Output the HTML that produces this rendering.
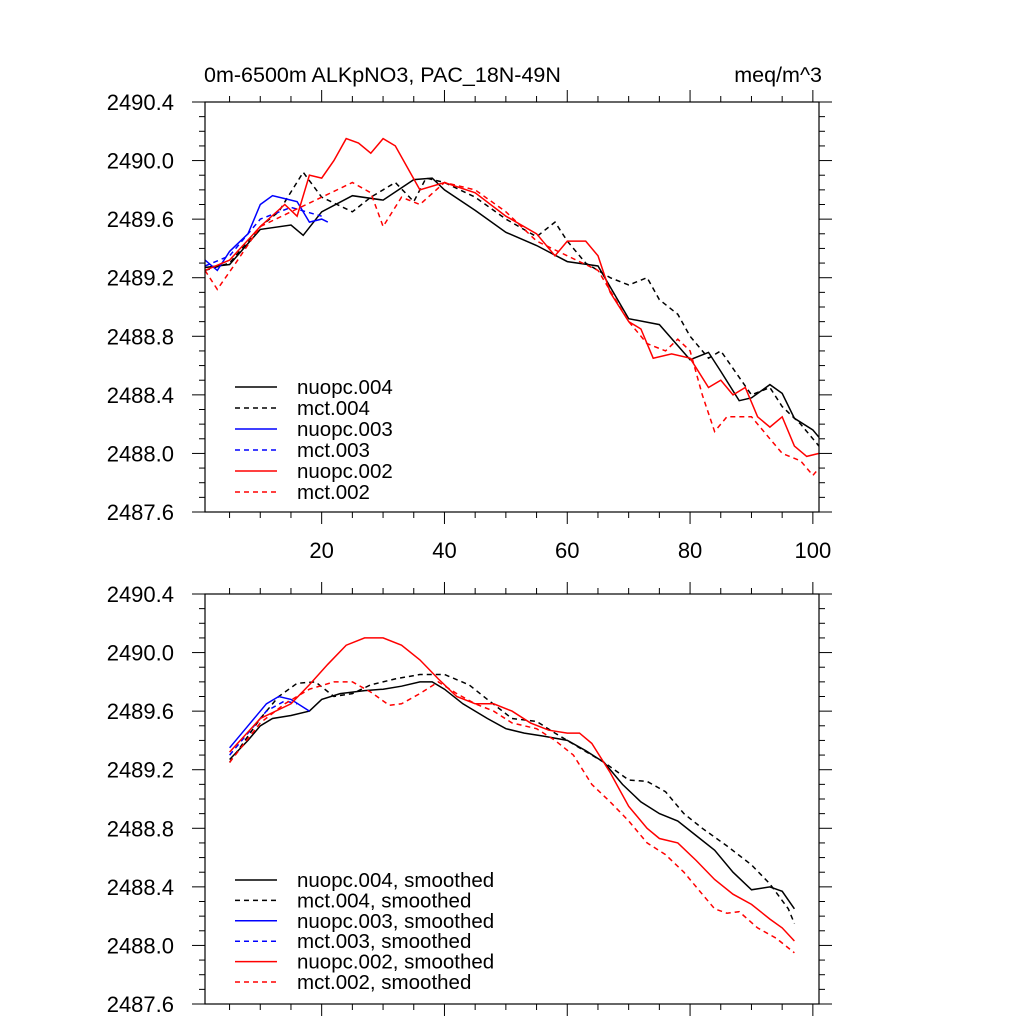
<!DOCTYPE html>
<html><head><meta charset="utf-8">
<style>
html,body{margin:0;padding:0;background:#fff;}
svg{display:block;font-family:"Liberation Sans",sans-serif;}
</style></head>
<body>
<svg id="chart" width="1024" height="1024" viewBox="0 0 1024 1024" xmlns="http://www.w3.org/2000/svg">
<text x="204" y="82" font-size="21.5">0m-6500m ALKpNO3, PAC_18N-49N</text>
<text x="822" y="82" font-size="21.5" text-anchor="end">meq/m^3</text>
</svg>
<script>
const yTicks=[2487.6,2488.0,2488.4,2488.8,2489.2,2489.6,2490.0,2490.4];
const yTickLabels=["2487.6","2488.0","2488.4","2488.8","2489.2","2489.6","2490.0","2490.4"];
const xTicks=[20,40,60,80,100];
const xTickLabels=["20","40","60","80","100"];

const n004x=[1,5,10,15,17,20,25,30,35,38,40,45,50,55,60,65,70,75,80,83,85,88,90,93,95,97,100,101];
const n004y=[2489.27,2489.29,2489.53,2489.56,2489.49,2489.65,2489.76,2489.73,2489.87,2489.88,2489.80,2489.66,2489.51,2489.42,2489.31,2489.28,2488.92,2488.88,2488.64,2488.69,2488.56,2488.36,2488.38,2488.47,2488.41,2488.24,2488.16,2488.11];
const m004x=[1,5,10,13,17,20,25,28,32,35,37,40,45,50,55,58,60,63,67,70,73,75,78,80,83,85,88,90,93,95,98,101];
const m004y=[2489.25,2489.30,2489.55,2489.65,2489.92,2489.75,2489.65,2489.75,2489.85,2489.72,2489.88,2489.85,2489.75,2489.60,2489.48,2489.58,2489.45,2489.30,2489.20,2489.15,2489.20,2489.05,2488.95,2488.80,2488.65,2488.70,2488.52,2488.40,2488.45,2488.32,2488.20,2488.05];
const n003x=[1,3,5,8,10,12,14,16,18,20,21];
const n003y=[2489.32,2489.25,2489.38,2489.50,2489.70,2489.76,2489.74,2489.72,2489.58,2489.60,2489.58];
const m003x=[1,5,10,15,20];
const m003y=[2489.28,2489.35,2489.60,2489.68,2489.62];
const n002x=[1,5,10,14,16,18,20,22,24,26,28,30,32,34,36,40,45,50,55,58,60,63,65,67,70,72,74,77,80,83,85,87,89,91,93,95,97,99,101];
const n002y=[2489.25,2489.32,2489.55,2489.70,2489.62,2489.90,2489.88,2490.00,2490.15,2490.12,2490.05,2490.15,2490.10,2489.95,2489.80,2489.85,2489.78,2489.62,2489.50,2489.35,2489.45,2489.45,2489.35,2489.10,2488.90,2488.85,2488.65,2488.68,2488.65,2488.45,2488.50,2488.40,2488.45,2488.25,2488.18,2488.25,2488.05,2487.98,2488.00];
const m002x=[1,3,6,10,15,20,25,28,30,33,36,40,45,50,55,60,65,70,73,76,78,80,82,84,86,90,93,95,98,100,101];
const m002y=[2489.25,2489.12,2489.30,2489.55,2489.65,2489.75,2489.85,2489.78,2489.55,2489.75,2489.70,2489.85,2489.80,2489.65,2489.45,2489.35,2489.25,2488.90,2488.75,2488.70,2488.78,2488.70,2488.40,2488.15,2488.25,2488.25,2488.10,2488.00,2487.95,2487.85,2487.90];

const sn004x=[5,8,10,12,15,18,20,23,27,30,33,36,38,40,43,47,50,53,56,60,63,66,69,72,75,78,81,84,87,90,93,95,97];
const sn004y=[2489.27,2489.40,2489.50,2489.55,2489.57,2489.60,2489.68,2489.72,2489.74,2489.75,2489.77,2489.80,2489.80,2489.75,2489.65,2489.55,2489.48,2489.45,2489.43,2489.40,2489.33,2489.25,2489.10,2488.98,2488.90,2488.85,2488.75,2488.65,2488.50,2488.38,2488.40,2488.37,2488.25];
const sm004x=[5,10,13,16,19,22,25,28,32,36,40,44,47,51,55,58,62,66,70,73,76,79,82,86,90,93,96,97];
const sm004y=[2489.25,2489.55,2489.70,2489.79,2489.80,2489.70,2489.72,2489.78,2489.82,2489.85,2489.85,2489.78,2489.68,2489.55,2489.53,2489.45,2489.35,2489.25,2489.13,2489.12,2489.05,2488.90,2488.80,2488.68,2488.55,2488.42,2488.25,2488.15];
const sn003x=[5,8,11,13,15,18];
const sn003y=[2489.35,2489.50,2489.65,2489.70,2489.68,2489.60];
const sm003x=[5,8,11,14,16];
const sm003y=[2489.30,2489.45,2489.60,2489.67,2489.65];
const sn002x=[5,10,15,18,21,24,27,30,33,36,39,42,45,48,51,54,57,60,62,64,67,70,73,75,78,81,84,87,90,93,95,97];
const sn002y=[2489.32,2489.55,2489.65,2489.78,2489.92,2490.05,2490.10,2490.10,2490.05,2489.95,2489.82,2489.70,2489.65,2489.65,2489.60,2489.52,2489.47,2489.45,2489.45,2489.38,2489.18,2488.95,2488.80,2488.73,2488.70,2488.58,2488.45,2488.35,2488.28,2488.18,2488.12,2488.03];
const sm002x=[5,10,14,18,22,25,28,31,33,36,39,42,45,48,51,55,58,61,64,67,70,73,76,79,82,84,86,88,91,94,97];
const sm002y=[2489.25,2489.52,2489.65,2489.75,2489.80,2489.80,2489.73,2489.64,2489.65,2489.72,2489.80,2489.72,2489.65,2489.60,2489.52,2489.48,2489.40,2489.30,2489.10,2488.98,2488.85,2488.70,2488.62,2488.50,2488.35,2488.25,2488.22,2488.23,2488.12,2488.05,2487.95];

const legendTop=["nuopc.004","mct.004","nuopc.003","mct.003","nuopc.002","mct.002"];
const legendBot=["nuopc.004, smoothed","mct.004, smoothed","nuopc.003, smoothed","mct.003, smoothed","nuopc.002, smoothed","mct.002, smoothed"];

const svg=document.getElementById('chart');
const NS="http://www.w3.org/2000/svg";
function mk(tag,attrs,parent){const e=document.createElementNS(NS,tag);for(const k in attrs)e.setAttribute(k,attrs[k]);(parent||svg).appendChild(e);return e;}

const X0=205,X1=819,XMIN=1,XMAX=101;
function xs(v){return X0+(v-XMIN)/(XMAX-XMIN)*(X1-X0);}

function panel(top,bot,series,legend,legTop,legStep,name,xlabels){
  const g=mk('g',{});
  
  
  const ys=v=>bot-(v-2487.6)/2.8*(bot-top);
  series.forEach((s,i)=>{
    const p=mk('polyline',{points:s.x.map((xv,j)=>xs(xv).toFixed(1)+','+ys(s.y[j]).toFixed(1)).join(' '),fill:'none',stroke:s.c,'stroke-width':1.5,'stroke-dasharray':s.d?'5,4':'none'},g);
    
    
  });
  const fr=mk('rect',{x:X0,y:top,width:X1-X0,height:bot-top,fill:'none',stroke:'#000','stroke-width':1.2},g);
  
  
  for(let k=0;k<=28;k++){
    const v=2487.6+k*0.1,y=ys(v),major=k%4==0,L=major?13:6;
    mk('line',{x1:X0,x2:X0-L,y1:y,y2:y,stroke:'#000','stroke-width':1},g);
    mk('line',{x1:X1,x2:X1+L,y1:y,y2:y,stroke:'#000','stroke-width':1},g);
  }
  yTicks.forEach((v,i)=>{
    const t=mk('text',{x:174,y:ys(v)+8,'font-size':22,'text-anchor':'end'},g);
    t.textContent=yTickLabels[i];
    
    
  });
  for(let v=5;v<=100;v+=5){
    const x=xs(v),major=v%20==0,L=major?12:6;
    mk('line',{x1:x,x2:x,y1:bot,y2:bot+L,stroke:'#000','stroke-width':1},g);
    mk('line',{x1:x,x2:x,y1:top,y2:top-L,stroke:'#000','stroke-width':1},g);
  }
  if(xlabels) xTicks.forEach((v,i)=>{
    const t=mk('text',{x:xs(v),y:bot+46,'font-size':22,'text-anchor':'middle'},g);
    t.textContent=xTickLabels[i];
    
    
  });
  legend.forEach((lab,i)=>{
    const y=legTop+i*legStep,s=series[i];
    const ln=mk('line',{x1:235,x2:277,y1:y,y2:y,stroke:s.c,'stroke-width':1.5,'stroke-dasharray':s.d?'5,4':'none'},g);
    
    
    const t=mk('text',{x:297,y:y+7,'font-size':20.5},g);
    t.textContent=lab;
    
    
  });
}
panel(102,512,[
 {x:n004x,y:n004y,c:'#000',d:false},{x:m004x,y:m004y,c:'#000',d:true},
 {x:n003x,y:n003y,c:'#0000ff',d:false},{x:m003x,y:m003y,c:'#0000ff',d:true},
 {x:n002x,y:n002y,c:'#ff0000',d:false},{x:m002x,y:m002y,c:'#ff0000',d:true}],
 legendTop,387,21,'top-panel',true);
panel(594,1004,[
 {x:sn004x,y:sn004y,c:'#000',d:false},{x:sm004x,y:sm004y,c:'#000',d:true},
 {x:sn003x,y:sn003y,c:'#0000ff',d:false},{x:sm003x,y:sm003y,c:'#0000ff',d:true},
 {x:sn002x,y:sn002y,c:'#ff0000',d:false},{x:sm002x,y:sm002y,c:'#ff0000',d:true}],
 legendBot,880,20.4,'bottom-panel',false);
</script>
</body></html>
